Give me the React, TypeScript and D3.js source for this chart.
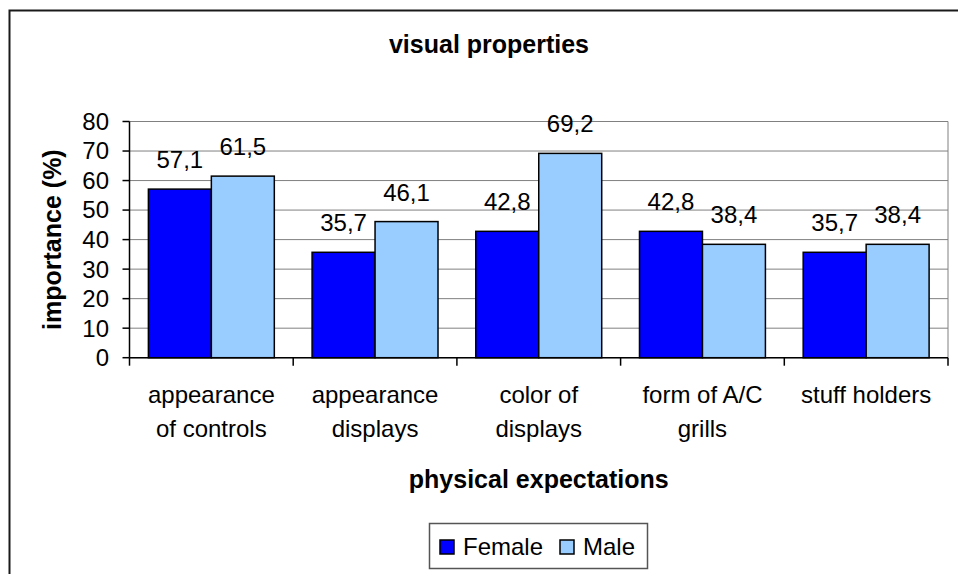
import React from "react";
import * as d3 from "d3";

const categories: string[][] = [
  ["appearance", "of controls"],
  ["appearance", "displays"],
  ["color of", "displays"],
  ["form of A/C", "grills"],
  ["stuff holders"],
];
const femaleValues = [57.1, 35.7, 42.8, 42.8, 35.7];
const maleValues = [61.5, 46.1, 69.2, 38.4, 38.4];
const seriesNames = ["Female", "Male"];
const seriesColors = ["#0000FF", "#99CCFF"];
const yTicks = [0, 10, 20, 30, 40, 50, 60, 70, 80];

const W = 958;
const H = 574;
const FONT = "'Liberation Sans', Arial, sans-serif";

export default function App() {
  const left = 129.5;
  const right = 948;
  const top = 121.5;
  const bottom = 357.7;
  const keys = categories.map((c) => c.join(" "));
  const x = d3.scaleBand<string>().domain(keys).range([left, right]).paddingInner(0).paddingOuter(0);
  const xi = d3
    .scaleBand<string>()
    .domain(seriesNames)
    .range([0, x.bandwidth()])
    .paddingInner(0)
    .paddingOuter(0.3);
  const y = d3.scaleLinear().domain([0, 80]).range([bottom, top]);
  const series = [femaleValues, maleValues];
  const fmt = (v: number) => d3.format(".1f")(v).replace(".", ",");
  const boundaries = d3.range(categories.length + 1).map((i) => left + i * x.step());

  return (
    <svg
      width={W}
      height={H}
      style={{ position: "absolute", left: 0, top: 0, background: "#fff" }}
      fontFamily={FONT}
    >
      <rect x={0} y={0} width={W} height={H} fill="#fff" />
      {/* outer frame */}
      <rect x={9.5} y={10.5} width={1000} height={700} fill="none" stroke="#1a1a1a" strokeWidth={2} />
      {/* title */}
      <text x={489} y={53} textAnchor="middle" fontWeight="bold" fontSize={25} fill="#000">
        visual properties
      </text>
      {/* gridlines */}
      {yTicks.map((t) => (
        <line key={"g" + t} x1={left} x2={right} y1={y(t)} y2={y(t)} stroke="#808080" strokeWidth={1} />
      ))}
      {/* plot area right border */}
      <line x1={right} x2={right} y1={top} y2={bottom} stroke="#808080" strokeWidth={1} />
      {/* bars */}
      {series.map((vals, si) =>
        vals.map((v, ci) => (
          <rect
            key={`b${si}-${ci}`}
            x={(x(keys[ci]) as number) + (xi(seriesNames[si]) as number)}
            y={y(v)}
            width={xi.bandwidth()}
            height={bottom - y(v)}
            fill={seriesColors[si]}
            stroke="#000"
            strokeWidth={1.5}
          />
        ))
      )}
      {/* data labels */}
      {series.map((vals, si) =>
        vals.map((v, ci) => (
          <text
            key={`l${si}-${ci}`}
            x={(x(keys[ci]) as number) + (xi(seriesNames[si]) as number) + xi.bandwidth() / 2}
            y={y(v) - 21}
            textAnchor="middle"
            fontSize={24}
            fill="#000"
          >
            {fmt(v)}
          </text>
        ))
      )}
      {/* y axis */}
      <line x1={left} x2={left} y1={top} y2={bottom} stroke="#000" strokeWidth={1.5} />
      {yTicks.map((t) => (
        <g key={"t" + t}>
          <line x1={left - 7} x2={left} y1={y(t)} y2={y(t)} stroke="#000" strokeWidth={1.5} />
          <text x={109} y={y(t)} dy="0.35em" textAnchor="end" fontSize={24} fill="#000">
            {t}
          </text>
        </g>
      ))}
      {/* x axis */}
      <line x1={left} x2={right} y1={bottom} y2={bottom} stroke="#000" strokeWidth={1.5} />
      {boundaries.map((bx, i) => (
        <line key={"xt" + i} x1={bx} x2={bx} y1={bottom} y2={bottom + 8} stroke="#000" strokeWidth={1.5} />
      ))}
      {categories.map((lines, ci) => (
        <text
          key={"c" + ci}
          x={(x(keys[ci]) as number) + x.bandwidth() / 2}
          y={403}
          textAnchor="middle"
          fontSize={24}
          fill="#000"
        >
          {lines.map((ln, li) => (
            <tspan key={li} x={(x(keys[ci]) as number) + x.bandwidth() / 2} dy={li === 0 ? 0 : 34}>
              {ln}
            </tspan>
          ))}
        </text>
      ))}
      {/* axis titles */}
      <text x={(left + right) / 2} y={488} textAnchor="middle" fontWeight="bold" fontSize={25} fill="#000">
        physical expectations
      </text>
      <text
        transform={`translate(61, ${(top + bottom) / 2}) rotate(-90)`}
        textAnchor="middle"
        fontWeight="bold"
        fontSize={25}
        fill="#000"
      >
        importance (%)
      </text>
      {/* legend */}
      <rect x={429.5} y={523.5} width={218} height={45} fill="#fff" stroke="#555" strokeWidth={1.5} />
      {seriesNames.map((name, i) => {
        const sx = i === 0 ? 440 : 560;
        return (
          <g key={"lg" + i}>
            <rect x={sx} y={540} width={14} height={14} fill={seriesColors[i]} stroke="#000" strokeWidth={1.5} />
            <text x={sx + 23} y={555} fontSize={24} fill="#000">
              {name}
            </text>
          </g>
        );
      })}
    </svg>
  );
}
